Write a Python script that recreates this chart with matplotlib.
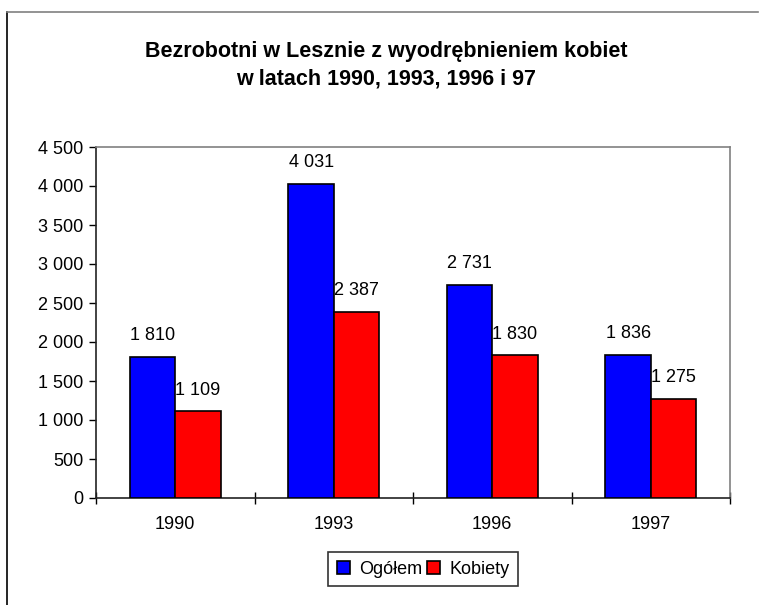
import matplotlib
matplotlib.use("Agg")
import matplotlib.pyplot as plt
from matplotlib.lines import Line2D
from matplotlib.ticker import FixedLocator, FuncFormatter
import numpy as np

plt.rcParams['font.family'] = ['Liberation Sans', 'DejaVu Sans']

years = ['1990', '1993', '1996', '1997']
ogolem = [1810, 4031, 2731, 1836]
kobiety = [1109, 2387, 1830, 1275]
series_names = ['Ogółem', 'Kobiety']
title_lines = ['Bezrobotni w Lesznie z wyodrębnieniem kobiet',
               'w latach 1990, 1993, 1996 i 97']

W, H = 759, 605
FS = 13
fig = plt.figure(figsize=(W / 100, H / 100), dpi=100)
fig.patch.set_facecolor('white')

# outer frame (left black, top gray)
fig.add_artist(Line2D([7 / W, 7 / W], [0, 1 - 12 / H], transform=fig.transFigure,
                      color='black', lw=1.2))
fig.add_artist(Line2D([7 / W, 758 / W], [1 - 12 / H, 1 - 12 / H], transform=fig.transFigure,
                      color='#808080', lw=1.2))

ax = fig.add_axes([96 / W, 1 - 498 / H, (730 - 96) / W, (498 - 147) / H])

x = np.arange(len(years))
bw = 1 / 3.5
b1 = ax.bar(x - bw / 2, ogolem, bw, color='#0000ff', edgecolor='black', linewidth=1.2,
            label=series_names[0], zorder=3)
b2 = ax.bar(x + bw / 2, kobiety, bw, color='#ff0000', edgecolor='black', linewidth=1.2,
            label=series_names[1], zorder=3)

def fmt(v):
    return f'{int(v):,}'.replace(',', ' ')

for bars, vals in ((b1, ogolem), (b2, kobiety)):
    for rect, v in zip(bars, vals):
        ax.annotate(fmt(v), (rect.get_x() + rect.get_width() / 2, v),
                    xytext=(0, 12), textcoords='offset points',
                    ha='center', va='baseline', fontsize=FS, color='black')

ax.set_xlim(-0.5, len(years) - 0.5)
ax.set_ylim(0, 4500)
ax.yaxis.set_major_locator(FixedLocator(np.arange(0, 4501, 500)))
ax.yaxis.set_major_formatter(FuncFormatter(lambda v, p: fmt(v)))
ax.tick_params(axis='y', length=5, width=1, direction='out', labelsize=FS, pad=4)

ax.set_xticks(x)
ax.set_xticklabels(years, fontsize=FS)
ax.tick_params(axis='x', which='major', length=0, pad=13)
ax.set_xticks(np.arange(-0.5, len(years)), minor=True)
ax.tick_params(axis='x', which='minor', length=8, width=1, direction='inout')

for s in ('top', 'right'):
    ax.spines[s].set_color('#808080')
    ax.spines[s].set_linewidth(1.2)
for s in ('left', 'bottom'):
    ax.spines[s].set_color('#222222')
    ax.spines[s].set_linewidth(1.2)

for i, line in enumerate(title_lines):
    fig.text(386 / W, 1 - (57 + 28 * i) / H, line, ha='center', va='baseline',
             fontsize=15.5, fontweight='bold')

leg = fig.legend(handles=[b1, b2], loc='center', bbox_to_anchor=(423 / W, 1 - 569 / H),
                 ncol=2, frameon=True, fancybox=False, shadow=False, fontsize=FS,
                 handlelength=0.75, handleheight=0.75, handletextpad=0.5, columnspacing=0.25,
                 borderpad=0.45, borderaxespad=0)
leg.get_frame().set_edgecolor('black')
leg.get_frame().set_linewidth(1.2)

fig.savefig('out.png', dpi=100, facecolor='white')
